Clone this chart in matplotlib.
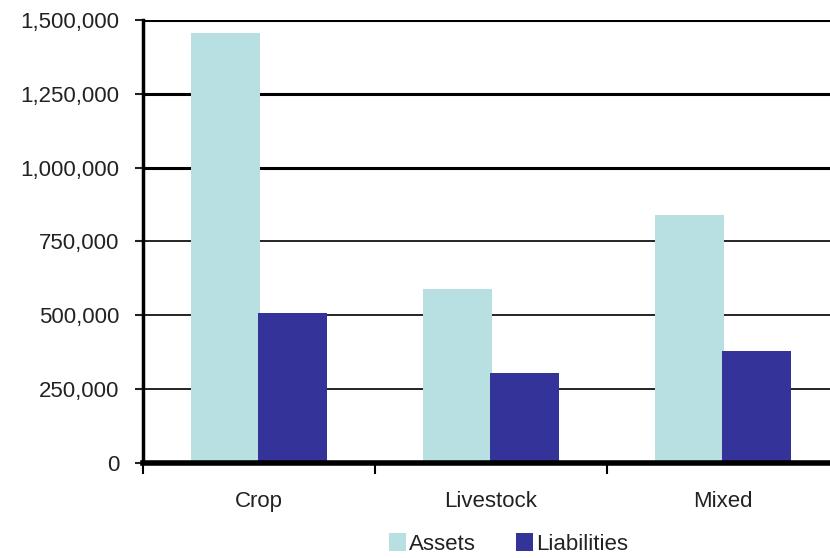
import numpy as np
import matplotlib.pyplot as plt
from matplotlib.ticker import FuncFormatter

plt.rcParams['font.family'] = ['Liberation Sans', 'DejaVu Sans']

# data
categories = ['Crop', 'Livestock', 'Mixed']
assets = [1455000, 590000, 840000]
liabilities = [507000, 303000, 378000]
y_ticks = [0, 250000, 500000, 750000, 1000000, 1250000, 1500000]

fig = plt.figure(figsize=(8.30, 5.58), dpi=100)
# axes run past the right edge of the picture, like the cropped original
ax = fig.add_axes([0.1723, 0.1703, 0.8386, 0.7939])

x = np.arange(len(categories))
width = 0.3
ax.bar(x - 0.145, assets, width, color='#b8dfe2', label='Assets', zorder=3)
ax.bar(x + 0.145, liabilities, width, color='#333399', label='Liabilities', zorder=3)

# black gridlines, the upper ones a bit heavier
for v in y_ticks[1:]:
    lw = 2.2 if v >= 1000000 else 1.2
    ax.axhline(v, color='black', lw=lw, zorder=1)

ax.set_xlim(-0.5, 2.5)
ax.set_ylim(0, 1500000)
ax.set_yticks(y_ticks)
ax.yaxis.set_major_formatter(FuncFormatter(lambda v, p: f'{int(v):,}'))
ax.tick_params(axis='y', length=6, width=1.5, pad=11, labelsize=16, colors='#222222')

ax.set_xticks(x)
ax.set_xticklabels(categories)
ax.tick_params(axis='x', which='major', length=0, pad=20, labelsize=16, colors='#222222')
ax.set_xticks([-0.5, 0.5, 1.5], minor=True)
ax.tick_params(axis='x', which='minor', length=8, width=1.5, direction='out')

for s in ['top', 'right']:
    ax.spines[s].set_visible(False)
ax.spines['left'].set_linewidth(2.5)
ax.spines['bottom'].set_linewidth(4)
ax.spines['bottom'].set_zorder(4)

fig.legend(loc='lower center', bbox_to_anchor=(0.613, -0.03), ncol=2, frameon=False,
           fontsize=16, handlelength=0.75, handleheight=0.9, handletextpad=0.15,
           columnspacing=1.8, labelcolor='#222222')

fig.savefig('out.png', dpi=100)
